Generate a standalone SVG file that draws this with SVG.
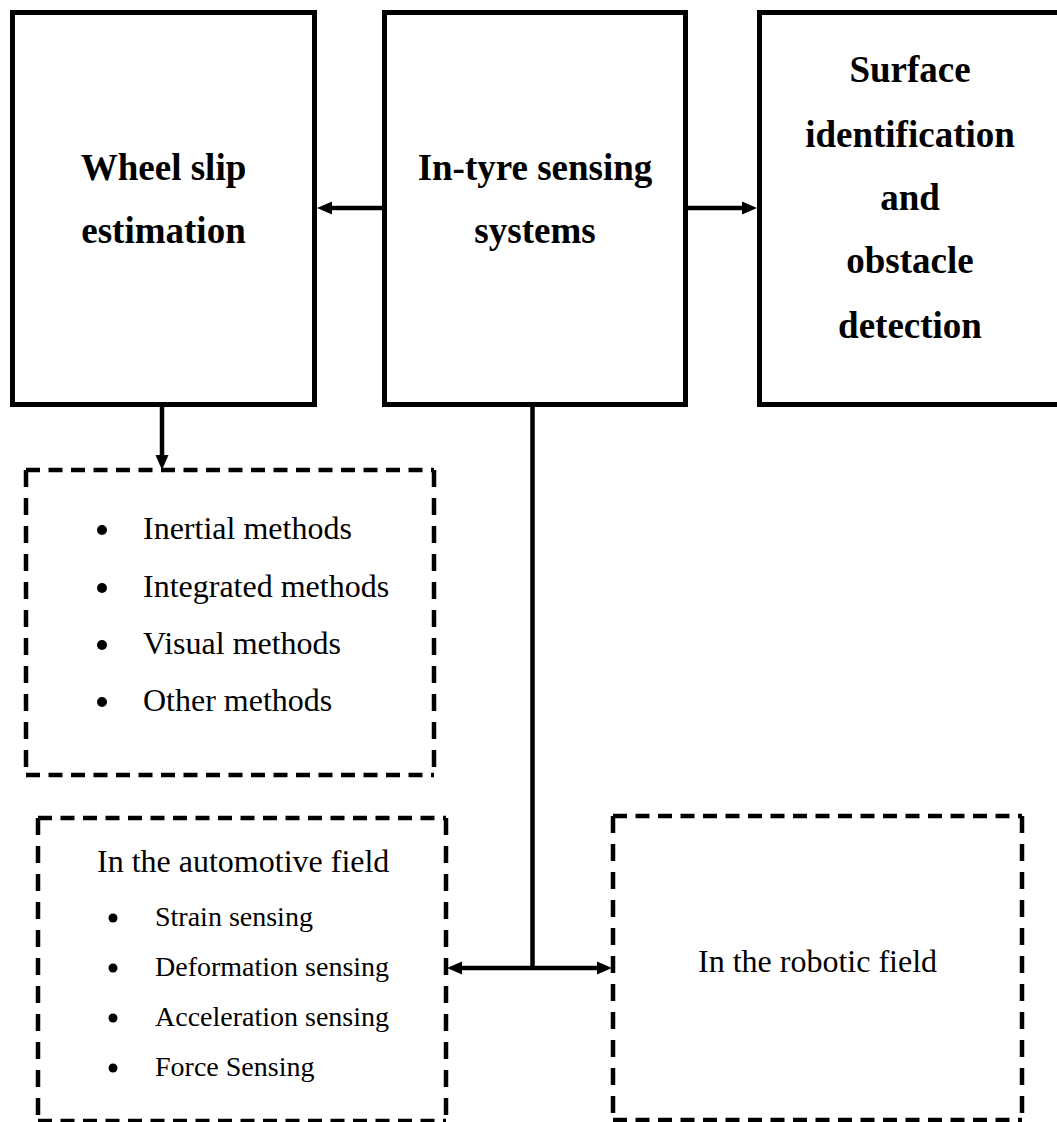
<svg xmlns="http://www.w3.org/2000/svg" width="1057" height="1122" viewBox="0 0 1057 1122">
<style>
.box{fill:#fff;stroke:#000;stroke-width:5}
.h{stroke:#000;stroke-width:4.5;stroke-dasharray:14 8.5;fill:none}
.v{stroke:#000;stroke-width:4.5;stroke-dasharray:17 11;fill:none}
.big{font-family:"Liberation Serif","Times New Roman",serif;font-weight:bold;font-size:37px;text-anchor:middle;fill:#000}
.t32{font-family:"Liberation Serif","Times New Roman",serif;font-size:32px;fill:#000}
.t28{font-family:"Liberation Serif","Times New Roman",serif;font-size:28px;fill:#000}
.ln{stroke:#000;stroke-width:4.5;fill:none}
.ah{fill:#000}
</style>
<rect width="1057" height="1122" fill="#fff"/>
<g id="wheel-slip">
<rect class="box" x="12.5" y="12.5" width="302" height="392"/>
<text class="big" x="163.5" y="180">Wheel slip</text>
<text class="big" x="163.5" y="243">estimation</text>
</g>
<g id="in-tyre">
<rect class="box" x="384.5" y="12.5" width="301" height="392"/>
<text class="big" x="535" y="180">In-tyre sensing</text>
<text class="big" x="535" y="243">systems</text>
</g>
<g id="surface">
<rect class="box" x="759.5" y="12.5" width="304" height="392"/>
<text class="big" x="910" y="82">Surface</text>
<text class="big" x="910" y="147">identification</text>
<text class="big" x="910" y="210">and</text>
<text class="big" x="910" y="273">obstacle</text>
<text class="big" x="910" y="338">detection</text>
</g>
<g id="slip-methods">
<line class="h" x1="26" y1="470" x2="434" y2="470"/>
<line class="h" x1="26" y1="775" x2="434" y2="775"/>
<line class="v" x1="26" y1="470" x2="26" y2="775"/>
<line class="v" x1="434" y1="470" x2="434" y2="775"/>
<circle cx="102" cy="530" r="5"/>
<circle cx="102" cy="588" r="5"/>
<circle cx="102" cy="645" r="5"/>
<circle cx="102" cy="702" r="5"/>
<text class="t32" x="143" y="539">Inertial methods</text>
<text class="t32" x="143" y="597">Integrated methods</text>
<text class="t32" x="143" y="654">Visual methods</text>
<text class="t32" x="143" y="711">Other methods</text>
</g>
<g id="automotive">
<line class="h" x1="38" y1="818" x2="446" y2="818"/>
<line class="h" x1="38" y1="1121" x2="446" y2="1121"/>
<line class="v" x1="38" y1="818" x2="38" y2="1121"/>
<line class="v" x1="446" y1="818" x2="446" y2="1121"/>
<text class="t32" x="97" y="872">In the automotive field</text>
<circle cx="113" cy="918" r="4.5"/>
<circle cx="113" cy="968" r="4.5"/>
<circle cx="113" cy="1018" r="4.5"/>
<circle cx="113" cy="1068" r="4.5"/>
<text class="t28" x="155" y="926">Strain sensing</text>
<text class="t28" x="155" y="976">Deformation sensing</text>
<text class="t28" x="155" y="1026">Acceleration sensing</text>
<text class="t28" x="155" y="1076">Force Sensing</text>
</g>
<g id="robotic">
<line class="h" x1="613" y1="816" x2="1022" y2="816"/>
<line class="h" x1="613" y1="1120" x2="1022" y2="1120"/>
<line class="v" x1="613" y1="816" x2="613" y2="1120"/>
<line class="v" x1="1022" y1="816" x2="1022" y2="1120"/>
<text class="t32" x="817.5" y="972" text-anchor="middle">In the robotic field</text>
</g>
<g id="connectors">
<line class="ln" x1="382" y1="208" x2="330" y2="208"/>
<polygon class="ah" points="317,208 332,201.5 332,214.5"/>
<line class="ln" x1="688" y1="208" x2="745" y2="208"/>
<polygon class="ah" points="757,208 742,201.5 742,214.5"/>
<line class="ln" x1="162" y1="407" x2="162" y2="458"/>
<polygon class="ah" points="162,470 155.5,455 168.5,455"/>
<line class="ln" x1="532.5" y1="407" x2="532.5" y2="968"/>
<line class="ln" x1="458" y1="968" x2="601" y2="968"/>
<polygon class="ah" points="447,968 462,961.5 462,974.5"/>
<polygon class="ah" points="612,968 597,961.5 597,974.5"/>
</g>
</svg>
